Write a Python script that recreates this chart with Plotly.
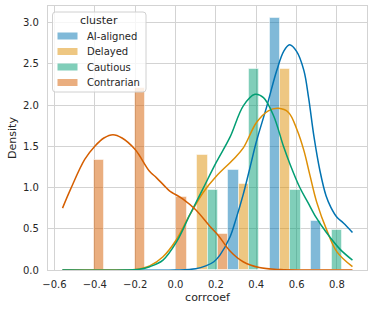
import plotly.graph_objects as go

# ---------------- data ----------------
clusters = ["AI-aligned", "Delayed", "Cautious", "Contrarian"]
colors = ["#0173b2", "#de8f05", "#029e73", "#d55e00"]

bin_edges = [-0.560, -0.355, -0.150, 0.056, 0.261, 0.466, 0.672, 0.877]

density_ai = [0.0, 0.0, 0.0, 0.0, 1.21, 3.05, 0.60]
density_delayed = [0.0, 0.0, 0.0, 1.39, 1.04, 2.44, 0.0]
density_cautious = [0.0, 0.0, 0.0, 0.97, 2.44, 0.97, 0.48]
density_contrarian = [1.33, 2.21, 0.89, 0.44, 0.0, 0.0, 0.0]

kde_ai_x = [-0.560, 0.0, 0.10, 0.15, 0.19, 0.22, 0.27, 0.30, 0.336, 0.37, 0.40, 0.452,
            0.502, 0.536, 0.565, 0.60, 0.636, 0.66, 0.686, 0.716, 0.746, 0.77, 0.80, 0.832, 0.877]
kde_ai_y = [0.0, 0.0, 0.015, 0.05, 0.10, 0.18, 0.40, 0.62, 0.92, 1.25, 1.55, 1.98,
            2.42, 2.65, 2.73, 2.65, 2.42, 2.08, 1.62, 1.20, 0.90, 0.76, 0.64, 0.57, 0.455]

kde_delayed_x = [-0.560, -0.25, -0.20, -0.128, -0.062, 0.005, 0.071, 0.137, 0.203, 0.286,
                 0.336, 0.402, 0.46, 0.51, 0.56, 0.602, 0.636, 0.666, 0.70, 0.75, 0.80, 0.877]
kde_delayed_y = [0.0, 0.0, 0.005, 0.05, 0.16, 0.37, 0.67, 0.94, 1.14, 1.34,
                 1.48, 1.79, 1.93, 1.96, 1.91, 1.70, 1.45, 1.15, 0.82, 0.48, 0.22, 0.04]

kde_cautious_x = [-0.560, -0.25, -0.18, -0.128, -0.062, 0.005, 0.071, 0.137, 0.203, 0.27,
                  0.336, 0.394, 0.436, 0.486, 0.535, 0.568, 0.616, 0.656, 0.696, 0.746, 0.816, 0.877]
kde_cautious_y = [0.0, 0.0, 0.01, 0.04, 0.12, 0.34, 0.67, 0.99, 1.31, 1.61,
                  1.99, 2.13, 2.09, 1.87, 1.50, 1.28, 1.00, 0.82, 0.64, 0.46, 0.25, 0.12]

kde_contrarian_x = [-0.560, -0.52, -0.45, -0.40, -0.355, -0.31, -0.265, -0.20, -0.13, -0.095,
                    -0.055, -0.03, 0.037, 0.10, 0.17, 0.215, 0.27, 0.335, 0.415, 0.52, 0.65, 0.877]
kde_contrarian_y = [0.75, 0.98, 1.34, 1.50, 1.60, 1.64, 1.60, 1.46, 1.20, 1.12,
                    1.02, 0.96, 0.86, 0.73, 0.53, 0.41, 0.23, 0.10, 0.03, 0.005, 0.0, 0.0]

x_ticks = [-0.6, -0.4, -0.2, 0.0, 0.2, 0.4, 0.6, 0.8]
y_ticks = [0.0, 0.5, 1.0, 1.5, 2.0, 2.5, 3.0]

densities = [density_ai, density_delayed, density_cautious, density_contrarian]
kdes = [(kde_ai_x, kde_ai_y), (kde_delayed_x, kde_delayed_y),
        (kde_cautious_x, kde_cautious_y), (kde_contrarian_x, kde_contrarian_y)]


def rgba(hex_color, a):
    h = hex_color.lstrip("#")
    r, g, b = int(h[0:2], 16), int(h[2:4], 16), int(h[4:6], 16)
    return f"rgba({r},{g},{b},{a})"


bin_centers = [(a + b) / 2 for a, b in zip(bin_edges[:-1], bin_edges[1:])]

fig = go.Figure()
for name, col, dens in zip(clusters, colors, densities):
    fig.add_trace(go.Bar(
        x=bin_centers, y=dens, name=name, showlegend=False,
        marker=dict(color=rgba(col, 0.5), line=dict(color="rgba(255,255,255,0.5)", width=1)),
    ))
for name, col, (kx, ky) in zip(clusters, colors, kdes):
    fig.add_trace(go.Scatter(
        x=kx, y=ky, mode="lines", showlegend=False,
        line=dict(color=col, width=1.5, shape="spline", smoothing=1.0),
    ))

# ---------------- layout ----------------
W, H = 374, 312
L, R, T, B = 48, 7, 6, 42
pw, ph = W - L - R, H - T - B
TXT = "#262626"
GRID = "#d3d3d3"


def px(xp):
    return (xp - L) / pw


def py(yp):
    return (H - B - yp) / ph


fig.update_layout(
    width=W, height=H,
    margin=dict(l=L, r=R, t=T, b=B),
    paper_bgcolor="white", plot_bgcolor="white",
    barmode="group", bargap=0, bargroupgap=0,
    font=dict(family="DejaVu Sans", color=TXT, size=10),
    showlegend=False,
)
fig.update_xaxes(
    range=[-0.632, 0.949], tickvals=x_ticks, tickformat=".1f",
    showgrid=True, gridcolor=GRID, gridwidth=1,
    showline=True, mirror=True, linecolor=GRID, linewidth=1.2,
    zeroline=False, ticks="outside", ticklen=5, tickcolor="rgba(0,0,0,0)",
    tickfont=dict(size=10, color=TXT),
    title=dict(text="corrcoef", font=dict(size=11, color=TXT), standoff=4),
)
fig.update_yaxes(
    range=[0, 3.2], tickvals=y_ticks, tickformat=".1f",
    showgrid=True, gridcolor=GRID, gridwidth=1,
    showline=True, mirror=True, linecolor=GRID, linewidth=1.2,
    zeroline=False, ticks="outside", ticklen=6, tickcolor="rgba(0,0,0,0)",
    tickfont=dict(size=10, color=TXT),
    title=dict(text="Density", font=dict(size=11, color=TXT), standoff=4),
)

# ---------------- legend (drawn manually, matplotlib style) ----------------
bx0, bx1, by0, by1 = 52.5, 146, 12, 92
r = 3
X0, X1 = px(bx0), px(bx1)
Y0, Y1 = py(by1), py(by0)
rx, ry = r / pw, r / ph
path = (f"M{X0 + rx},{Y0} L{X1 - rx},{Y0} Q{X1},{Y0} {X1},{Y0 + ry} "
        f"L{X1},{Y1 - ry} Q{X1},{Y1} {X1 - rx},{Y1} L{X0 + rx},{Y1} "
        f"Q{X0},{Y1} {X0},{Y1 - ry} L{X0},{Y0 + ry} Q{X0},{Y0} {X0 + rx},{Y0} Z")
fig.add_shape(type="path", path=path, xref="paper", yref="paper",
              fillcolor="rgba(255,255,255,0.8)", line=dict(color="#d0d0d0", width=1),
              layer="above")
fig.add_annotation(x=px((bx0 + bx1) / 2), y=py(21), xref="paper", yref="paper",
                   text="cluster", showarrow=False, xanchor="center", yanchor="middle",
                   font=dict(size=11, color=TXT))
row_y = [36, 51.5, 67, 82.5]
for name, col, yc in zip(clusters, colors, row_y):
    fig.add_shape(type="rect", xref="paper", yref="paper",
                  x0=px(57.5), x1=px(77.5), y0=py(yc + 3.5), y1=py(yc - 3.5),
                  fillcolor=rgba(col, 0.5), line=dict(width=0), layer="above")
    fig.add_annotation(x=px(85), y=py(yc), xref="paper", yref="paper",
                       text=name, showarrow=False, xanchor="left", yanchor="middle",
                       font=dict(size=10, color=TXT))

fig.write_html("out.html", config={"displayModeBar": False},
               post_script="document.body.style.margin='0';")
